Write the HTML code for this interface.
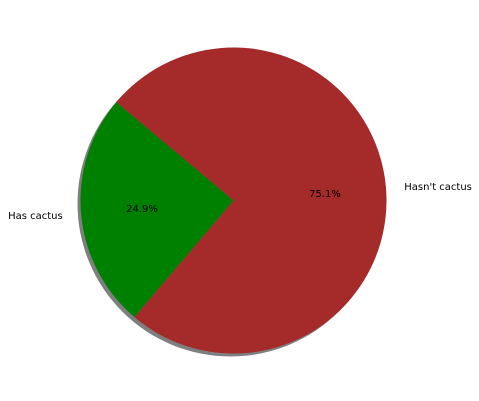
<!DOCTYPE html>
<html><head><meta charset="utf-8"><style>body{margin:0;background:#fff}svg{display:block}text{font-family:"DejaVu Sans","Liberation Sans",sans-serif;font-size:10px;fill:#000}</style></head>
<body>
<svg width="479" height="401" id="c"></svg>
<script>
const categories=["Has cactus","Hasn't cactus"];
const values=[24.9,75.1];
const colors=["#008000","#a52a2a"];
const cx=233.5,cy=200.5,r=153,startAngle=140;
const svg=document.getElementById('c');
const ns="http://www.w3.org/2000/svg";
function pt(a,rad){const t=a*Math.PI/180;return [cx+rad*Math.cos(t),cy-rad*Math.sin(t)];}
const sh=document.createElementNS(ns,'circle');


sh.setAttribute('cx',cx-3);sh.setAttribute('cy',cy+3);sh.setAttribute('r',r);
sh.setAttribute('fill','#000');sh.setAttribute('opacity','0.5');
svg.appendChild(sh);
const total=values.reduce((a,b)=>a+b,0);
let a=startAngle;
values.forEach((v,i)=>{
  const sweep=v/total*360,a2=a+sweep;
  const [x1,y1]=pt(a,r),[x2,y2]=pt(a2,r);
  const p=document.createElementNS(ns,'path');
  
  
  p.setAttribute('d',`M${cx},${cy}L${x1},${y1}A${r},${r} 0 ${sweep>180?1:0} 0 ${x2},${y2}Z`);
  p.setAttribute('fill',colors[i]);
  svg.appendChild(p);
  const mid=a+sweep/2;
  const [lx,ly]=pt(mid,r*1.12);
  const t=document.createElementNS(ns,'text');
  
  
  t.setAttribute('x',lx);t.setAttribute('y',ly+4);
  t.setAttribute('text-anchor',Math.cos(mid*Math.PI/180)<0?'end':'start');
  t.textContent=categories[i];svg.appendChild(t);
  const [px,py]=pt(mid,r*0.6);
  const q=document.createElementNS(ns,'text');
  
  
  q.setAttribute('x',px);q.setAttribute('y',py+4);q.setAttribute('text-anchor','middle');
  q.textContent=v.toFixed(1)+'%';svg.appendChild(q);
  a=a2;
});
</script>
</body></html>
